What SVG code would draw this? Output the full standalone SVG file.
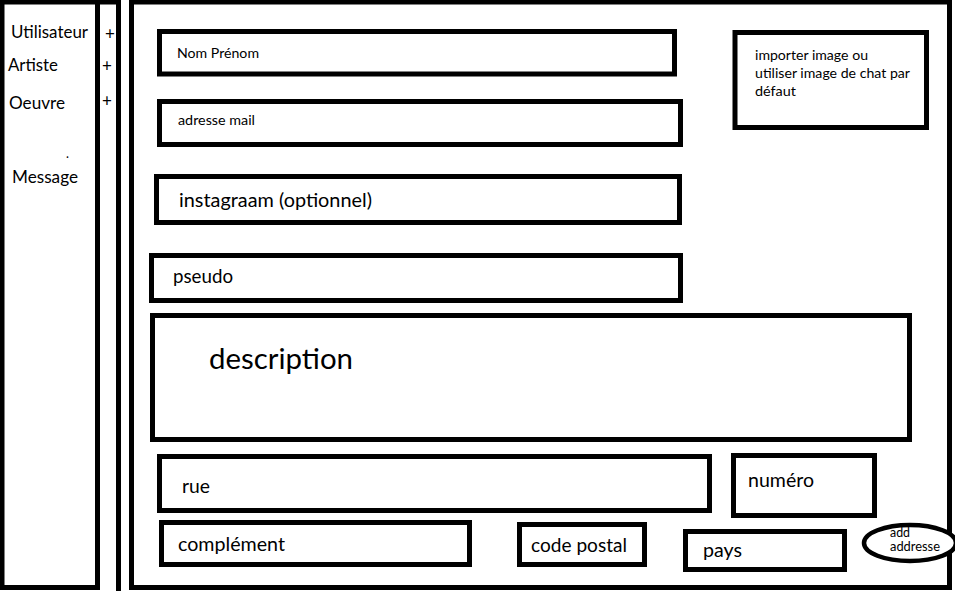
<svg xmlns="http://www.w3.org/2000/svg" width="955" height="591" viewBox="0 0 955 591">
  <style>
    .box { fill: #ffffff; stroke: #000000; stroke-width: 5; }
    .line { fill: none; stroke: #000000; stroke-width: 5; }
    text { font-family: Lato, "Liberation Sans", sans-serif; fill: #000000; }
    .s { font-size: 14px; }
    .m { font-size: 19.5px; }
    .l { font-size: 29.5px; }
    .nav { font-size: 17px; }
    .xs { font-size: 12.5px; }
  </style>
  <rect x="0" y="0" width="955" height="591" fill="#ffffff"/>

  <g id="sidebar">
    <rect class="box" x="2" y="2" width="95.5" height="585.5"/>
    <text class="nav" x="11" y="38" textLength="77" lengthAdjust="spacingAndGlyphs">Utilisateur</text>
    <text class="nav" x="8" y="71" textLength="50" lengthAdjust="spacingAndGlyphs">Artiste</text>
    <text class="nav" x="9" y="109" textLength="56" lengthAdjust="spacingAndGlyphs">Oeuvre</text>
    <text class="xs" x="66" y="158">.</text>
    <text class="nav" x="12" y="183" textLength="66" lengthAdjust="spacingAndGlyphs">Message</text>
  </g>

  <g id="plus-strip">
    <path class="line" d="M118.5,591 V2 H97.5"/>
    <text class="nav" x="105" y="40">+</text>
    <text class="nav" x="102" y="72">+</text>
    <text class="nav" x="102" y="107">+</text>
  </g>

  <g id="main-frame">
    <rect class="box" x="131.5" y="2" width="818" height="585.5"/>
  </g>

  <g id="nom-prenom">
    <rect class="box" x="159.5" y="31.5" width="515" height="42.5"/>
    <text class="s" x="177" y="58" textLength="82" lengthAdjust="spacingAndGlyphs">Nom Prénom</text>
  </g>

  <g id="adresse-mail">
    <rect class="box" x="159.5" y="101.5" width="521" height="43"/>
    <text class="s" x="178" y="125" textLength="77" lengthAdjust="spacingAndGlyphs">adresse mail</text>
  </g>

  <g id="instagram">
    <rect class="box" x="156.5" y="176.5" width="523" height="46"/>
    <text class="m" x="179" y="207" textLength="193" lengthAdjust="spacingAndGlyphs">instagraam (optionnel)</text>
  </g>

  <g id="pseudo">
    <rect class="box" x="151.5" y="255.5" width="529" height="45"/>
    <text class="m" x="173" y="283" textLength="60" lengthAdjust="spacingAndGlyphs">pseudo</text>
  </g>

  <g id="image">
    <rect class="box" x="735" y="32.5" width="191.5" height="95"/>
    <text class="s" x="755" y="60" textLength="113" lengthAdjust="spacingAndGlyphs">importer image ou</text>
    <text class="s" x="755" y="78" textLength="155" lengthAdjust="spacingAndGlyphs">utiliser image de chat par</text>
    <text class="s" x="755" y="96" textLength="41" lengthAdjust="spacingAndGlyphs">défaut</text>
  </g>

  <g id="description">
    <rect class="box" x="152.5" y="315.5" width="757" height="124"/>
    <text class="l" x="209" y="369" textLength="144" lengthAdjust="spacingAndGlyphs">description</text>
  </g>

  <g id="rue">
    <rect class="box" x="159.5" y="456.5" width="550" height="54"/>
    <text class="m" x="182" y="493" textLength="28" lengthAdjust="spacingAndGlyphs">rue</text>
  </g>

  <g id="numero">
    <rect class="box" x="733.5" y="455.5" width="141" height="60"/>
    <text class="m" x="748" y="487" textLength="66" lengthAdjust="spacingAndGlyphs">numéro</text>
  </g>

  <g id="complement">
    <rect class="box" x="161.5" y="522.5" width="308" height="42"/>
    <text class="m" x="178" y="551" textLength="107" lengthAdjust="spacingAndGlyphs">complément</text>
  </g>

  <g id="code-postal">
    <rect class="box" x="519.5" y="524.5" width="125" height="40"/>
    <text class="m" x="531" y="552" textLength="96" lengthAdjust="spacingAndGlyphs">code postal</text>
  </g>

  <g id="pays">
    <rect class="box" x="685.5" y="531.5" width="159" height="38"/>
    <text class="m" x="703" y="557" textLength="39" lengthAdjust="spacingAndGlyphs">pays</text>
  </g>

  <g id="add-addresse">
    <ellipse cx="910" cy="543" rx="46" ry="18" fill="#ffffff" stroke="#000000" stroke-width="4.5"/>
    <text class="xs" x="890" y="537" textLength="20" lengthAdjust="spacingAndGlyphs">add</text>
    <text class="xs" x="890" y="551" textLength="50" lengthAdjust="spacingAndGlyphs">addresse</text>
  </g>
</svg>
